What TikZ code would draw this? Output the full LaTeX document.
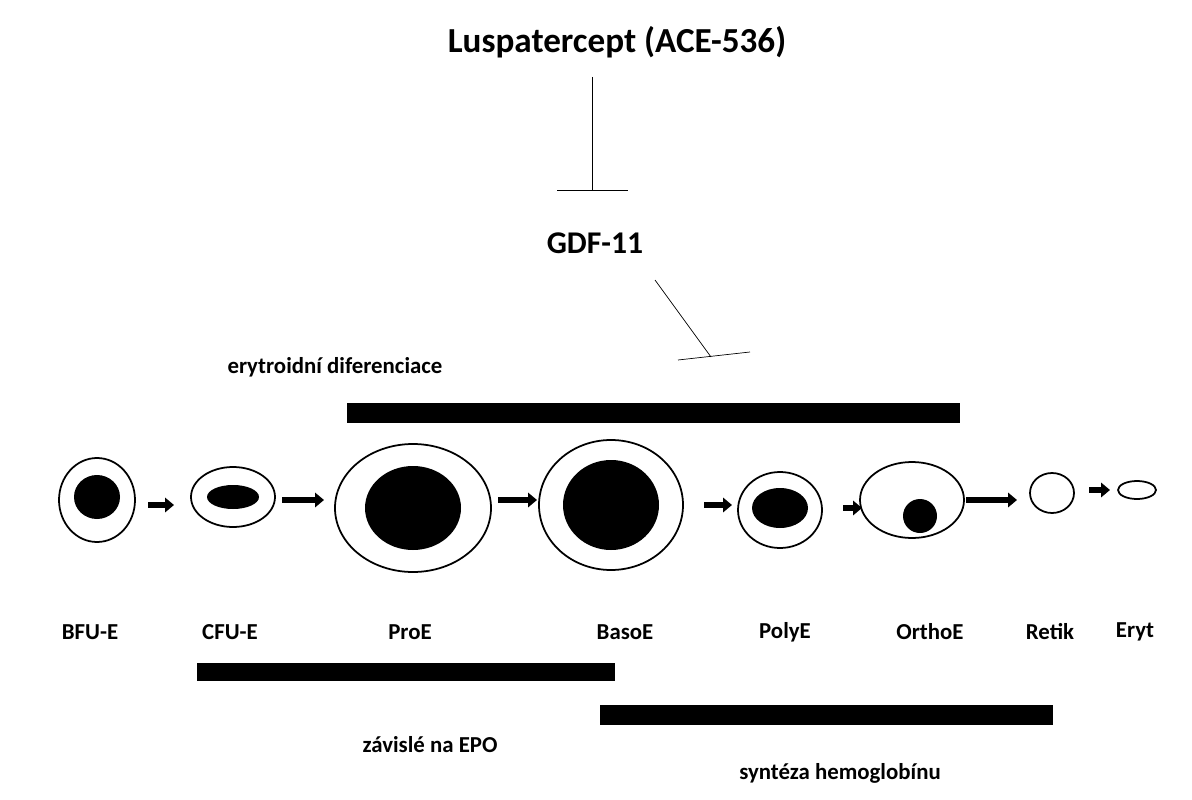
\documentclass[tikz,border=0pt]{standalone}
\usepackage{fontspec}
\setmainfont{Carlito}
\usetikzlibrary{arrows.meta}
\begin{document}
\begin{tikzpicture}[x=0.02cm,y=-0.02cm,
  lbl/.style={font=\bfseries\fontsize{13}{15}\selectfont},
  stage/.style={lbl},
  cell/.style={draw,line width=1pt},
  nucleus/.style={fill=black},
  maturation/.style={-{Triangle[length=5pt,width=8pt]},line width=3.5pt},
  bar/.style={fill=black}]
\useasboundingbox (0,0) rectangle (1192,800);
% titles
\node [font=\bfseries\fontsize{20}{24}\selectfont] (lusp) at (617,42) {Luspatercept (ACE-536)};
\node [font=\bfseries\fontsize{18}{22}\selectfont] (gdf) at (595,243) {GDF-11};
\coordinate (l1) at (592,77);
\coordinate (l2) at (592,190);
\draw (l1) -- (l2);
\draw (557,190) -- (628,190);
\coordinate (g1) at (655,280);
\coordinate (g2) at (711,357);
\draw (g1) -- (g2);
\draw (678,360) -- (750,352);
% bars
\node [lbl] (diff) at (335,367) {erytroidní diferenciace};
\fill [bar] (347,403) rectangle (960,423);
\fill [bar] (197,663) rectangle (615,681);
\fill [bar] (600,705) rectangle (1053,725);
\node [lbl] (epo) at (430,745) {závislé na EPO};
\node [lbl] (hb) at (840,773) {syntéza hemoglobínu};
% cells
\draw [cell] (97,500) ellipse (38 and 42);
\fill [nucleus] (97,497) ellipse (23 and 22);
\draw [cell] (233,497) ellipse (42 and 30);
\fill [nucleus] (233,497) ellipse (26 and 12);
\draw [cell] (413,508) ellipse (78 and 64);
\fill [nucleus] (413,508) ellipse (48 and 42);
\draw [cell] (611,505) ellipse (72 and 65);
\fill [nucleus] (611,505) ellipse (48 and 45);
\draw [cell] (780,510) ellipse (42 and 38);
\fill [nucleus] (780,508) ellipse (28 and 20);
\draw [cell] (912,500) ellipse (52 and 38);
\fill [nucleus] (920,516) circle (17);
\draw [cell] (1052,493) ellipse (22 and 20);
\draw [cell] (1137,490) ellipse (19 and 9);
% steps
\foreach \a/\b/\y in {148/174/505, 282/324/500, 498/537/500, 704/732/505, 843/862/508, 966/1017/500, 1089/1110/490}
  \draw [maturation] (\a,\y) -- (\b,\y);
% stage names
\foreach \x/\t in {90/BFU-E, 230/CFU-E, 410/ProE, 625/BasoE, 785/PolyE, 930/OrthoE, 1050/Retik, 1135/Eryt}
  \node [stage] at (\x,632) {\t};
\end{tikzpicture}
\end{document}
